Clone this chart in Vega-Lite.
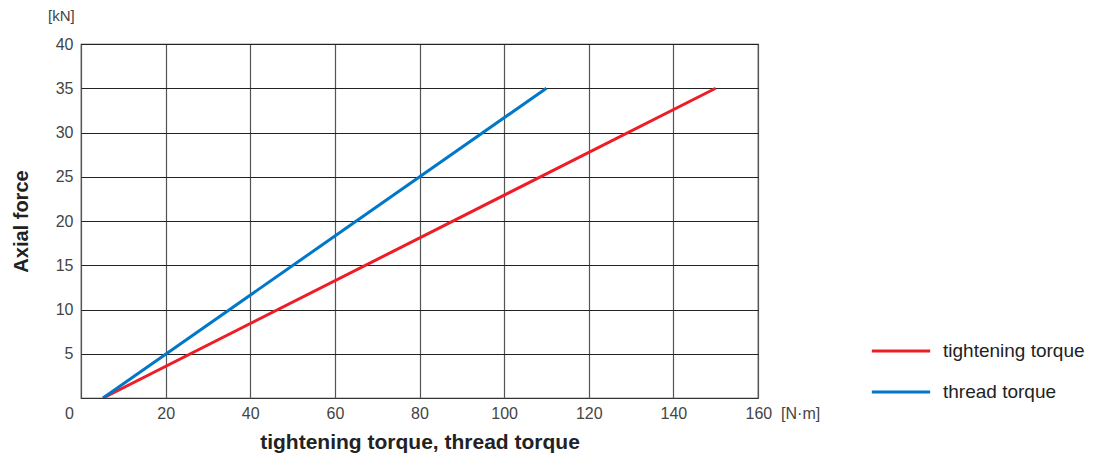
{
  "$schema": "https://vega.github.io/schema/vega-lite/v6.json",
  "autosize": "none",
  "width": 677,
  "height": 354,
  "padding": {"left": 81, "top": 44, "right": 344, "bottom": 57},
  "background": "white",
  "config": {
    "font": "Liberation Sans",
    "view": {"stroke": "#333", "strokeWidth": 1.2}
  },
  "title": {
    "text": "[kN]",
    "anchor": "start",
    "frame": "group",
    "dx": -33,
    "offset": 12,
    "fontSize": 15,
    "fontWeight": "normal",
    "color": "#444",
    "font": "Liberation Sans"
  },
  "data": {
    "values": [
      {"series": "tightening torque", "torque": 5.2, "force": 0},
      {"series": "tightening torque", "torque": 150, "force": 35},
      {"series": "thread torque", "torque": 5.2, "force": 0},
      {"series": "thread torque", "torque": 110, "force": 35}
    ]
  },
  "mark": {"type": "line", "strokeWidth": 3, "clip": true},
  "encoding": {
    "x": {
      "field": "torque",
      "type": "quantitative",
      "scale": {"domain": [0, 160], "nice": false},
      "axis": {
        "values": [0, 20, 40, 60, 80, 100, 120, 140, 160],
        "title": "tightening torque, thread torque",
        "titleFontSize": 21,
        "titleFontWeight": "bold",
        "titleColor": "#222",
        "titlePadding": 10,
        "labelFontSize": 16,
        "labelColor": "#444",
        "labelPadding": 7,
        "labelExpr": "datum.value == 160 ? '160\u00a0\u00a0[N·m]' : datum.label",
        "labelAlign": {"condition": {"test": "datum.value == 160", "value": "left"}, "value": "center"},
        "labelOffset": {"condition": [{"test": "datum.value == 160", "value": -13}, {"test": "datum.value == 0", "value": -12}], "value": 0},
        "labelFlush": false,
        "labelOverlap": false,
        "ticks": false,
        "domain": false,
        "grid": true,
        "gridColor": "#555",
        "gridWidth": 1.2,
        "gridOpacity": 1
      }
    },
    "y": {
      "field": "force",
      "type": "quantitative",
      "scale": {"domain": [0, 40], "nice": false},
      "axis": {
        "values": [5, 10, 15, 20, 25, 30, 35, 40],
        "title": "Axial force",
        "titleFontSize": 20,
        "titleFontWeight": "bold",
        "titleColor": "#222",
        "titlePadding": 24,
        "labelFontSize": 16,
        "labelColor": "#444",
        "labelPadding": 8,
        "ticks": false,
        "domain": false,
        "grid": true,
        "gridColor": "#222",
        "gridWidth": 1.2,
        "gridOpacity": 1
      }
    },
    "color": {
      "field": "series",
      "type": "nominal",
      "scale": {"domain": ["tightening torque", "thread torque"], "range": ["#ee1c25", "#0077c8"]},
      "legend": {
        "title": null,
        "orient": "none",
        "legendX": 789,
        "legendY": 276,
        "padding": 0,
        "symbolType": "stroke",
        "symbolSize": 3400,
        "symbolStrokeWidth": 3,
        "labelFontSize": 19,
        "labelColor": "#222",
        "labelOffset": 11,
        "rowPadding": -18
      }
    }
  }
}
